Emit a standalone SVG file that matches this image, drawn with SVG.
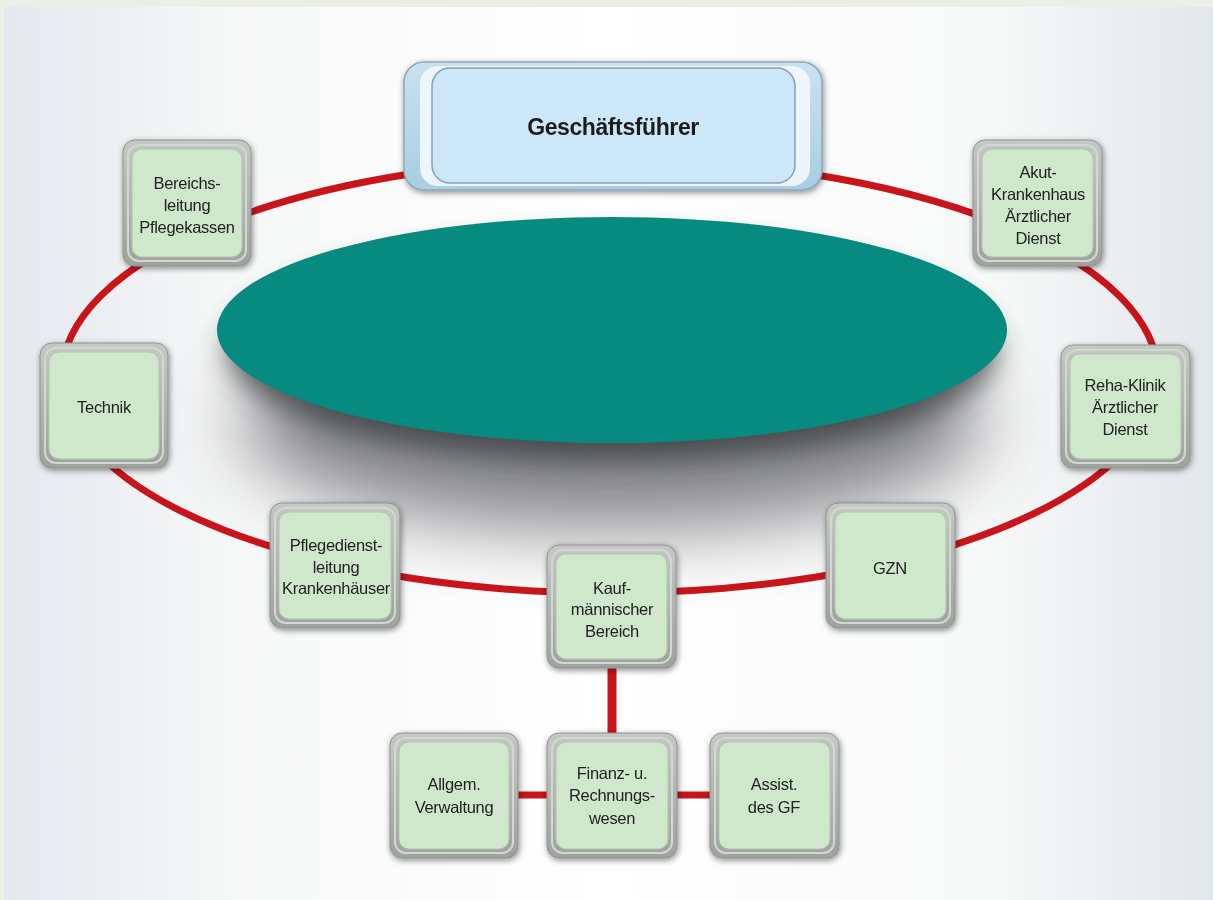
<svg xmlns="http://www.w3.org/2000/svg" width="1213" height="900" viewBox="0 0 1213 900">
<defs>
<linearGradient id="bg" x1="0" y1="0" x2="1" y2="0">
<stop offset="0" stop-color="#e4e8ed"/>
<stop offset="0.18" stop-color="#f6f7f7"/>
<stop offset="0.5" stop-color="#ffffff"/>
<stop offset="0.82" stop-color="#f7f8f8"/>
<stop offset="1" stop-color="#e2e7eb"/>
</linearGradient>
<linearGradient id="frame" x1="0" y1="0" x2="0" y2="1">
<stop offset="0" stop-color="#c4c9c4"/>
<stop offset="1" stop-color="#9da29d"/>
</linearGradient>
<linearGradient id="gfFrame" x1="0" y1="0" x2="0" y2="1">
<stop offset="0" stop-color="#c9e2f0"/>
<stop offset="1" stop-color="#a9cde2"/>
</linearGradient>
<filter id="shadow" x="-20%" y="-20%" width="140%" height="140%">
<feGaussianBlur in="SourceAlpha" stdDeviation="3"/>
<feOffset dx="1" dy="2" result="b"/>
<feComponentTransfer><feFuncA type="linear" slope="0.45"/></feComponentTransfer>
<feMerge><feMergeNode/><feMergeNode in="SourceGraphic"/></feMerge>
</filter>
<filter id="blurBig" x="-30%" y="-60%" width="160%" height="220%">
<feGaussianBlur stdDeviation="38"/>
</filter>
<filter id="blurMid" x="-30%" y="-60%" width="160%" height="220%">
<feGaussianBlur stdDeviation="14"/>
</filter>
<style>
.frame{fill:url(#frame);stroke:#8e938e;stroke-width:1}
.ring{fill:none;stroke:#d3d7d3;stroke-width:2}
.inner{fill:#cfe8cc;stroke:#b7c2b6;stroke-width:1}
.lbl{font-family:"Liberation Sans Narrow","Liberation Sans",Arial,sans-serif;font-size:16.5px;letter-spacing:-0.3px;fill:#222;text-anchor:middle}
.title{font-family:"Liberation Sans",Arial,sans-serif;font-size:23px;font-weight:bold;letter-spacing:-0.4px;fill:#1e1e1e;text-anchor:middle}
.red{stroke:#c8141b;fill:none}
</style>
</defs>
<rect x="0" y="0" width="1213" height="900" fill="#eceee8"/>
<rect x="4" y="7" width="1209" height="893" fill="url(#bg)"/>

<!-- shadow of the teal ellipse -->
<ellipse cx="612" cy="420" rx="370" ry="110" fill="#5a5c62" opacity="0.75" filter="url(#blurBig)"/>
<ellipse cx="612" cy="350" rx="385" ry="110" fill="#3a3c40" opacity="0.8" filter="url(#blurMid)"/>
<ellipse cx="612" cy="330" rx="395" ry="113" fill="#078a80"/>

<g id="connectors">
<ellipse class="red" cx="610" cy="376" rx="548" ry="217" stroke-width="7"/>
<line class="red" x1="612" y1="666" x2="612" y2="735" stroke-width="9"/>
<line class="red" x1="516" y1="795" x2="549" y2="795" stroke-width="7"/>
<line class="red" x1="675" y1="795" x2="712" y2="795" stroke-width="7"/>
</g>

<g id="gf" filter="url(#shadow)">
<rect x="404" y="62" width="418" height="128" rx="20" fill="url(#gfFrame)" stroke="#8fa7b6" stroke-width="1.5"/>
<rect x="420" y="66" width="390" height="120" rx="18" fill="#f2f8fc" opacity="0.9"/>
<rect x="432" y="68" width="363" height="115" rx="18" fill="#cbe7f8" stroke="#8aa0ad" stroke-width="1.5"/>
<text class="title" x="613" y="135">Geschäftsführer</text>
</g>

<g id="bereichsleitung" filter="url(#shadow)">
<rect class="frame" x="123" y="140" width="128" height="126" rx="12"/>
<rect class="ring" x="128" y="145" width="118" height="116" rx="11"/>
<rect class="inner" x="132" y="149" width="110" height="108" rx="10"/>
<text class="lbl" x="187" y="189">Bereichs-</text>
<text class="lbl" x="187" y="211">leitung</text>
<text class="lbl" x="187" y="233">Pflegekassen</text>
</g>

<g id="akut" filter="url(#shadow)">
<rect class="frame" x="973" y="140" width="129" height="126" rx="12"/>
<rect class="ring" x="978" y="145" width="119" height="116" rx="11"/>
<rect class="inner" x="982" y="149" width="111" height="108" rx="10"/>
<text class="lbl" x="1038" y="178">Akut-</text>
<text class="lbl" x="1038" y="200">Krankenhaus</text>
<text class="lbl" x="1038" y="222">Ärztlicher</text>
<text class="lbl" x="1038" y="244">Dienst</text>
</g>

<g id="technik" filter="url(#shadow)">
<rect class="frame" x="40" y="343" width="128" height="125" rx="12"/>
<rect class="ring" x="45" y="348" width="118" height="115" rx="11"/>
<rect class="inner" x="49" y="352" width="110" height="107" rx="10"/>
<text class="lbl" x="104" y="413">Technik</text>
</g>

<g id="reha" filter="url(#shadow)">
<rect class="frame" x="1061" y="345" width="129" height="123" rx="12"/>
<rect class="ring" x="1066" y="350" width="119" height="113" rx="11"/>
<rect class="inner" x="1070" y="354" width="111" height="105" rx="10"/>
<text class="lbl" x="1125" y="391">Reha-Klinik</text>
<text class="lbl" x="1125" y="413">Ärztlicher</text>
<text class="lbl" x="1125" y="435">Dienst</text>
</g>

<g id="pflegedienst" filter="url(#shadow)">
<rect class="frame" x="270" y="503" width="130" height="125" rx="12"/>
<rect class="ring" x="275" y="508" width="120" height="115" rx="11"/>
<rect class="inner" x="279" y="512" width="112" height="107" rx="10"/>
<text class="lbl" x="336" y="551">Pflegedienst-</text>
<text class="lbl" x="336" y="573">leitung</text>
<text class="lbl" x="336" y="594">Krankenhäuser</text>
</g>

<g id="kaufmaennisch" filter="url(#shadow)">
<rect class="frame" x="547" y="545" width="129" height="123" rx="12"/>
<rect class="ring" x="552" y="550" width="119" height="113" rx="11"/>
<rect class="inner" x="556" y="554" width="111" height="105" rx="10"/>
<text class="lbl" x="612" y="594">Kauf-</text>
<text class="lbl" x="612" y="615">männischer</text>
<text class="lbl" x="612" y="637">Bereich</text>
</g>

<g id="gzn" filter="url(#shadow)">
<rect class="frame" x="826" y="503" width="129" height="125" rx="12"/>
<rect class="ring" x="831" y="508" width="119" height="115" rx="11"/>
<rect class="inner" x="835" y="512" width="111" height="107" rx="10"/>
<text class="lbl" x="890" y="574">GZN</text>
</g>

<g id="allgem" filter="url(#shadow)">
<rect class="frame" x="390" y="733" width="128" height="125" rx="12"/>
<rect class="ring" x="395" y="738" width="118" height="115" rx="11"/>
<rect class="inner" x="399" y="742" width="110" height="107" rx="10"/>
<text class="lbl" x="454" y="790">Allgem.</text>
<text class="lbl" x="454" y="813">Verwaltung</text>
</g>

<g id="finanz" filter="url(#shadow)">
<rect class="frame" x="547" y="733" width="130" height="125" rx="12"/>
<rect class="ring" x="552" y="738" width="120" height="115" rx="11"/>
<rect class="inner" x="556" y="742" width="112" height="107" rx="10"/>
<text class="lbl" x="612" y="779">Finanz- u.</text>
<text class="lbl" x="612" y="801">Rechnungs-</text>
<text class="lbl" x="612" y="824">wesen</text>
</g>

<g id="assist" filter="url(#shadow)">
<rect class="frame" x="710" y="733" width="129" height="125" rx="12"/>
<rect class="ring" x="715" y="738" width="119" height="115" rx="11"/>
<rect class="inner" x="719" y="742" width="111" height="107" rx="10"/>
<text class="lbl" x="774" y="790">Assist.</text>
<text class="lbl" x="774" y="813">des GF</text>
</g>
</svg>
